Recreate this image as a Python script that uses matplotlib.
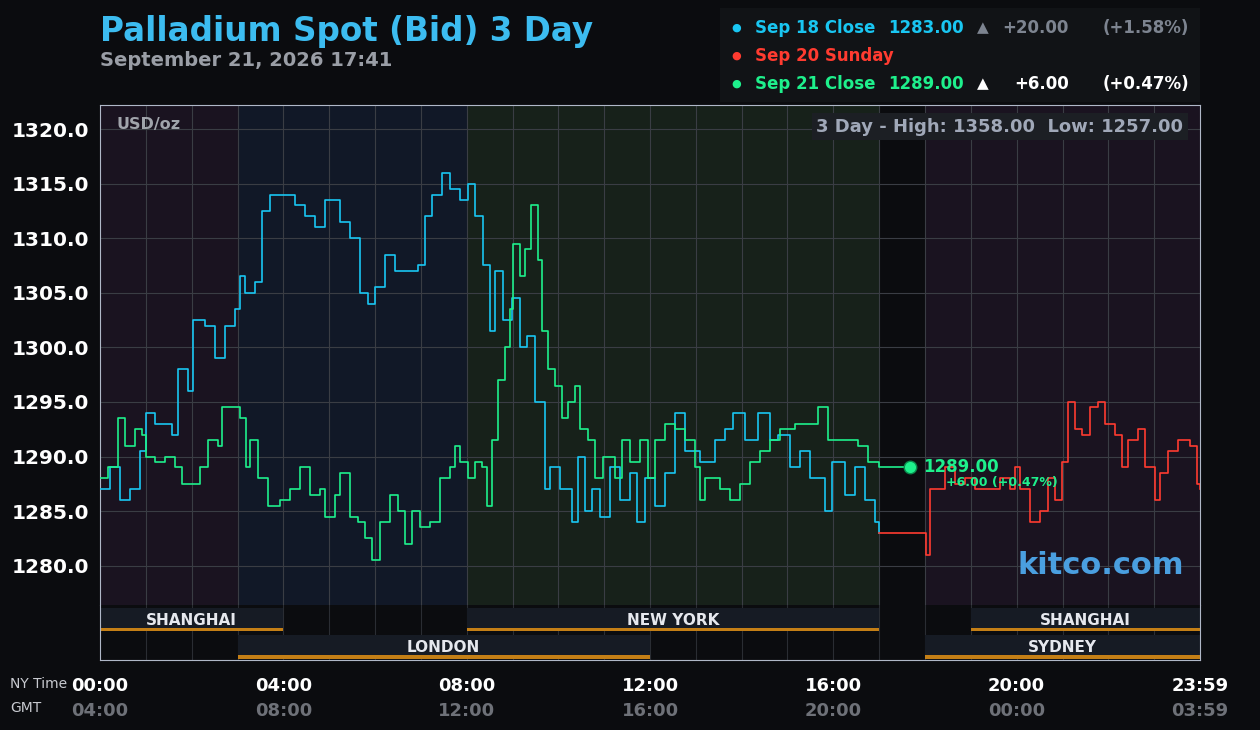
import numpy as np
import matplotlib
matplotlib.use("Agg")
import matplotlib.pyplot as plt
from matplotlib.patches import Rectangle

# Sep 18 (blue) - NY hours / price
blue_h = [0, 0.22, 0.44, 0.65, 0.87, 1.0, 1.2, 1.42, 1.57, 1.7, 1.92, 2.03, 2.29, 2.51, 2.73, 2.95, 3.05,
          3.16, 3.38, 3.53, 3.71, 4.04, 4.25, 4.47, 4.69, 4.91, 5.24, 5.45, 5.67, 5.85, 6.0, 6.22, 6.44,
          6.94, 7.09, 7.24, 7.46, 7.64, 7.86, 8.03, 8.18, 8.36, 8.51, 8.62, 8.79, 8.99, 9.16, 9.32, 9.49,
          9.71, 9.82, 10.04, 10.3, 10.43, 10.58, 10.74, 10.91, 11.13, 11.35, 11.56, 11.72, 11.89, 12.11,
          12.33, 12.55, 12.76, 13.09, 13.42, 13.64, 13.81, 14.07, 14.36, 14.62, 14.79, 15.06, 15.27, 15.49,
          15.82, 15.97, 16.26, 16.47, 16.69, 16.91, 17.0]
blue_v = [1287, 1289, 1286, 1287, 1290.5, 1294, 1293, 1293, 1292, 1298, 1296, 1302.5, 1302, 1299, 1302,
          1303.5, 1306.5, 1305, 1306, 1312.5, 1314, 1314, 1313, 1312, 1311, 1313.5, 1311.5, 1310, 1305,
          1304, 1305.5, 1308.5, 1307, 1307.5, 1312, 1314, 1316, 1314.5, 1313.5, 1315, 1312, 1307.5, 1301.5,
          1307, 1302.5, 1304.5, 1300, 1301, 1295, 1287, 1289, 1287, 1284, 1290, 1285, 1287, 1284.5, 1289,
          1286, 1288.5, 1284, 1288, 1285.5, 1288.5, 1294, 1290.5, 1289.5, 1291.5, 1292.5, 1294, 1291.5,
          1294, 1291.5, 1292, 1289, 1290.5, 1288, 1285, 1289.5, 1286.5, 1289, 1286, 1284, 1283]

# Sep 21 (green)
green_h = [0, 0.17, 0.39, 0.55, 0.76, 0.92, 1.0, 1.2, 1.42, 1.64, 1.79, 2.01, 2.18, 2.36, 2.57, 2.66, 2.95,
           3.05, 3.19, 3.27, 3.45, 3.67, 3.93, 4.15, 4.36, 4.58, 4.8, 4.91, 5.13, 5.24, 5.45, 5.63, 5.78,
           5.93, 6.11, 6.33, 6.5, 6.65, 6.81, 6.98, 7.2, 7.42, 7.64, 7.75, 7.86, 8.03, 8.18, 8.34, 8.44,
           8.55, 8.68, 8.84, 8.95, 9.01, 9.16, 9.27, 9.4, 9.56, 9.64, 9.78, 9.93, 10.08, 10.21, 10.36, 10.47,
           10.65, 10.8, 10.98, 11.24, 11.39, 11.56, 11.78, 11.96, 12.11, 12.33, 12.55, 12.76, 12.98, 13.09,
           13.2, 13.53, 13.75, 13.96, 14.18, 14.4, 14.62, 14.84, 15.16, 15.49, 15.67, 15.88, 16.15, 16.54,
           16.76, 17.0, 17.67]
green_v = [1288, 1289, 1293.5, 1291, 1292.5, 1292, 1290, 1289.5, 1290, 1289, 1287.5, 1287.5, 1289, 1291.5,
           1291, 1294.5, 1294.5, 1293.5, 1289, 1291.5, 1288, 1285.5, 1286, 1287, 1289, 1286.5, 1287, 1284.5,
           1286.5, 1288.5, 1284.5, 1284, 1282.5, 1280.5, 1284, 1286.5, 1285, 1282, 1285, 1283.5, 1284,
           1288, 1289, 1291, 1289.5, 1288, 1289.5, 1289, 1285.5, 1291.5, 1297, 1300, 1303.5, 1309.5, 1306.5,
           1309, 1313, 1308, 1301.5, 1298, 1296.5, 1293.5, 1295, 1296.5, 1292.5, 1291.5, 1288, 1290, 1288,
           1291.5, 1289.5, 1291.5, 1288, 1291.5, 1293, 1292.5, 1291.5, 1289, 1286, 1288, 1287, 1286, 1287.5,
           1289.5, 1290.5, 1291.5, 1292.5, 1293, 1293, 1294.5, 1291.5, 1291.5, 1291, 1289.5, 1289, 1289]

# Sep 20 Sunday (red)
red_h = [17.0, 18.0, 18.02, 18.11, 18.44, 18.66, 18.87, 19.09, 19.64, 19.86, 19.96, 20.07, 20.29, 20.51,
         20.69, 20.84, 20.99, 21.12, 21.27, 21.43, 21.6, 21.78, 21.93, 22.15, 22.3, 22.43, 22.65, 22.8,
         23.02, 23.13, 23.3, 23.52, 23.78, 23.94, 24.0]
red_v = [1283, 1283, 1281, 1287, 1289, 1287.5, 1288, 1287, 1288, 1287, 1289, 1287, 1284, 1285, 1288,
         1286, 1289.5, 1295, 1292.5, 1292, 1294.5, 1295, 1293, 1292, 1289, 1291.5, 1292.5, 1289, 1286,
         1288.5, 1290.5, 1291.5, 1291, 1287.5, 1287]

y_ticks = [1280, 1285, 1290, 1295, 1300, 1305, 1310, 1315, 1320]
ny_labels = ["00:00", "04:00", "08:00", "12:00", "16:00", "20:00", "23:59"]
gmt_labels = ["04:00", "08:00", "12:00", "16:00", "20:00", "00:00", "03:59"]
label_hours = [0, 4, 8, 12, 16, 20, 24]

BLUE = "#19c6f2"
GREEN = "#1ef08c"
RED = "#ff3b30"
BG = "#0b0c0f"

fig = plt.figure(figsize=(12.6, 7.3), dpi=100, facecolor=BG)
W, H = 1260, 730
ax = fig.add_axes([100 / W, 125 / H, 1100 / W, 500 / H])
ax.set_facecolor(BG)
ax.set_xlim(0, 24)
ax.set_ylim(1276.4, 1322.2)

# session shading
for a, b, c in [(0, 3, "#1a1320"), (3, 8, "#111827"), (8, 17, "#17211a"), (17, 18, BG), (18, 24, "#1a1320")]:
    ax.axvspan(a, b, color=c, zorder=0, lw=0)
for h in range(1, 24):
    ax.axvline(h, color="#3a3d44", lw=0.8, zorder=1)
for v in y_ticks:
    ax.axhline(v, color="#3a3d44", lw=0.8, zorder=1)

ax.step(blue_h, blue_v, where="post", color=BLUE, lw=1.2, zorder=3)
ax.step(red_h, red_v, where="post", color=RED, lw=1.2, zorder=3)
ax.step(green_h, green_v, where="post", color=GREEN, lw=1.2, zorder=4)
ax.plot(green_h[-1], green_v[-1], "o", ms=9, color=GREEN, mec="#0a8a4c", zorder=5)
ax.text(17.95, 1289, "1289.00", color=GREEN, fontsize=12, fontweight="bold", va="center")
ax.text(18.45, 1287.6, "+6.00 (+0.47%)", color=GREEN, fontsize=9, fontweight="bold", va="center")

ax.set_yticks(y_ticks)
ax.set_yticklabels([f"{v:.1f}" for v in y_ticks], color="white", fontsize=14.5, fontweight="bold")
ax.tick_params(axis="y", length=0, pad=8)
ax.set_xticks([])
for s in ax.spines.values():
    s.set_color("#b0b8c8")
    s.set_linewidth(0.8)
ax.spines["bottom"].set_visible(False)

ax.text(0.015, 0.975, "USD/oz", transform=ax.transAxes, color="#a0a4ab", fontsize=11.5,
        fontweight="bold", va="top")
ax.text(0.985, 0.975, "3 Day - High: 1358.00  Low: 1257.00", transform=ax.transAxes, color="#a0a8b8",
        fontsize=13, fontweight="bold", va="top", ha="right",
        bbox=dict(boxstyle="square,pad=0.25", fc="#1c1f24", ec="none"))
ax.text(0.985, 0.05, "kitco.com", transform=ax.transAxes, color="#4a9fe0", fontsize=22,
        fontweight="bold", ha="right", va="bottom")

# session bars
sx = fig.add_axes([100 / W, 70 / H, 1100 / W, 55 / H])
sx.set_facecolor(BG)
sx.set_xlim(0, 24)
sx.set_ylim(0, 2)
for h in range(1, 24):
    sx.axvline(h, color="#2a2d33", lw=0.8, zorder=0)
sessions = [("SHANGHAI", 0, 4, 1), ("NEW YORK", 8, 17, 1), ("SHANGHAI", 19, 24, 1),
            ("LONDON", 3, 12, 0), ("SYDNEY", 18, 24, 0)]
for name, a, b, row in sessions:
    sx.add_patch(Rectangle((a, row + 0.05), b - a, 0.85, fc="#161b24", ec="none", zorder=1))
    sx.add_patch(Rectangle((a, row + 0.05), b - a, 0.13, fc="#c47f16", ec="none", zorder=2))
    sx.text((a + b) / 2, row + 0.45, name, color="#e6e8ee", fontsize=11, fontweight="bold",
            ha="center", va="center", zorder=3)
sx.set_xticks([])
sx.set_yticks([])
for k, s in sx.spines.items():
    s.set_color("#b0b8c8")
    s.set_linewidth(0.8)
sx.spines["top"].set_visible(False)

# time labels
for h, ny, g in zip(label_hours, ny_labels, gmt_labels):
    x = (100 + h / 24 * 1100) / W
    fig.text(x, 1 - 686 / H, ny, color="white", fontsize=13, fontweight="bold", ha="center", va="center")
    fig.text(x, 1 - 711 / H, g, color="#6e7178", fontsize=13, fontweight="bold", ha="center", va="center")
fig.text(10 / W, 1 - 684 / H, "NY Time", color="#c8cad0", fontsize=10, va="center")
fig.text(10 / W, 1 - 708 / H, "GMT", color="#c8cad0", fontsize=10, va="center")

# title
fig.text(100 / W, 1 - 31 / H, "Palladium Spot (Bid) 3 Day", color="#3cbcf0", fontsize=23.5,
         fontweight="bold", va="center")
fig.text(100 / W, 1 - 60 / H, "September 21, 2026 17:41", color="#9a9ea6", fontsize=14,
         fontweight="bold", va="center")

# legend box
fig.patches.append(Rectangle((720 / W, 1 - 102 / H), 480 / W, 94 / H, transform=fig.transFigure,
                             fc="#111316", ec="none", zorder=0))
rows = [(28, BLUE, "Sep 18 Close", "1283.00", "#7d8490", "+20.00", "(+1.58%)"),
        (56, RED, "Sep 20 Sunday", None, None, None, None),
        (84, GREEN, "Sep 21 Close", "1289.00", "white", "+6.00", "(+0.47%)")]
for y, c, lab, price, cc, chg, pct in rows:
    yy = 1 - y / H
    fig.text(736 / W, yy, "\u25cf", color=c, fontsize=8, ha="center", va="center")
    fig.text(755 / W, yy, lab, color=c, fontsize=12, fontweight="bold", va="center")
    if price:
        fig.text(888 / W, yy, price, color=c, fontsize=12, fontweight="bold", va="center")
        fig.text(983 / W, yy, "\u25b2", color=cc, fontsize=11, ha="center", va="center")
        fig.text(1069 / W, yy, chg, color=cc, fontsize=12, fontweight="bold", va="center", ha="right")
        fig.text(1189 / W, yy, pct, color=cc, fontsize=12, fontweight="bold", va="center", ha="right")

fig.savefig("out.png", dpi=100, facecolor=BG)
